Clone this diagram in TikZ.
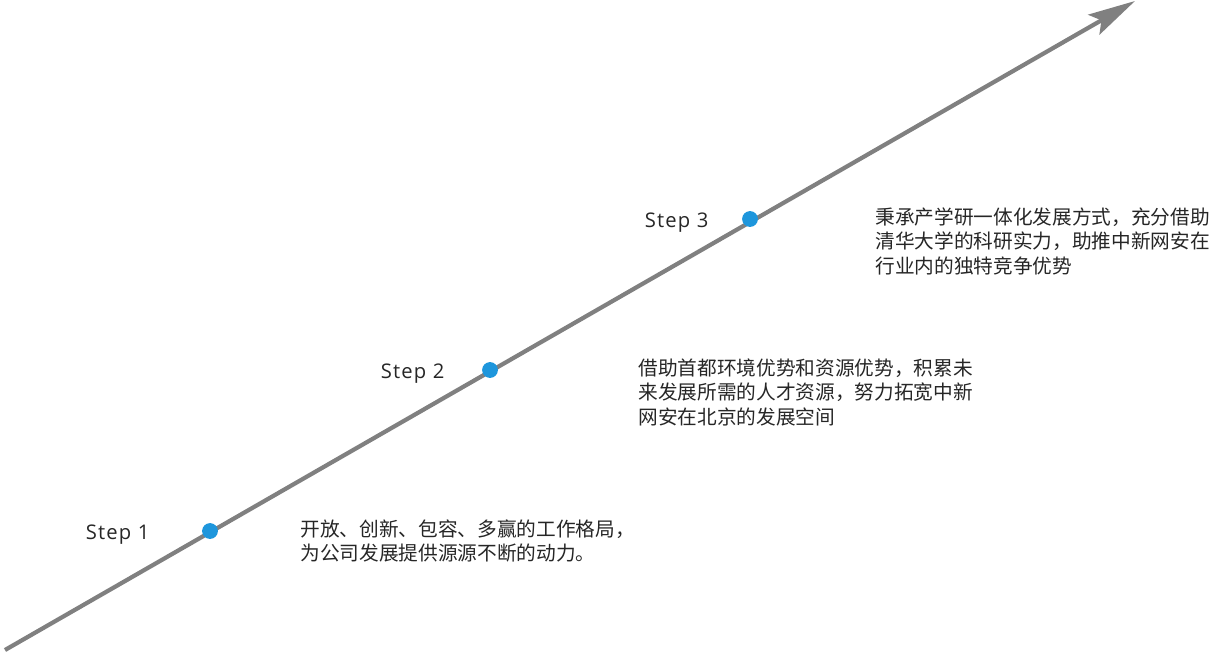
\documentclass[tikz,border=0pt]{standalone}
\usepackage{fontspec}
\setmainfont{Open Sans}
\newfontfamily\cjk{Noto Sans CJK SC}
\usetikzlibrary{arrows.meta,positioning}

\definecolor{lineGray}{HTML}{808080}
\definecolor{dotBlue}{HTML}{1E96DC}

\tikzset{
  timeline/.style={draw=lineGray,line width=2.4pt,-{Stealth[length=27pt,width=13pt,inset=5pt]}},
  stepdot/.style={circle,fill=dotBlue,inner sep=0pt,minimum size=9pt},
  steplabel/.style={font=\fontsize{11.5}{13}\selectfont\addfontfeature{LetterSpace=6},inner sep=0pt,yshift=-2pt,text=black!85},
  desc/.style={font=\cjk\fontsize{11.2}{14}\selectfont,align=left,inner sep=0pt,anchor=north west,text=black!85}
}

\begin{document}
\begin{tikzpicture}[x=0.02cm,y=-0.02cm]
    % Fix the frame
    \useasboundingbox (0,0) rectangle (1216,655);

    % Draw the rising line
    \coordinate (start) at (5,650);
    \coordinate (tip) at (1135,1);
    \draw[timeline] (start) -- (tip);

    % Draw the three steps
    \node[stepdot] (s1) at (210,531) {};
    \node[stepdot] (s2) at (490,370) {};
    \node[stepdot] (s3) at (750,219) {};

    % Step labels to the left of each dot
    \node[steplabel,left=52 of s1] (l1) {Step\ 1};
    \node[steplabel,left=37 of s2] (l2) {Step\ 2};
    \node[steplabel,left=33 of s3] (l3) {Step\ 3};

    % Descriptions to the right of each dot
    \node[desc] (d1) at (300,519) {开放、创新、包容、多赢的工作格局，\\为公司发展提供源源不断的动力。};
    \node[desc] (d2) at (638,358) {借助首都环境优势和资源优势，积累未\\来发展所需的人才资源，努力拓宽中新\\网安在北京的发展空间};
    \node[desc] (d3) at (875,207) {秉承产学研一体化发展方式，充分借助\\清华大学的科研实力，助推中新网安在\\行业内的独特竞争优势};
\end{tikzpicture}
\end{document}
